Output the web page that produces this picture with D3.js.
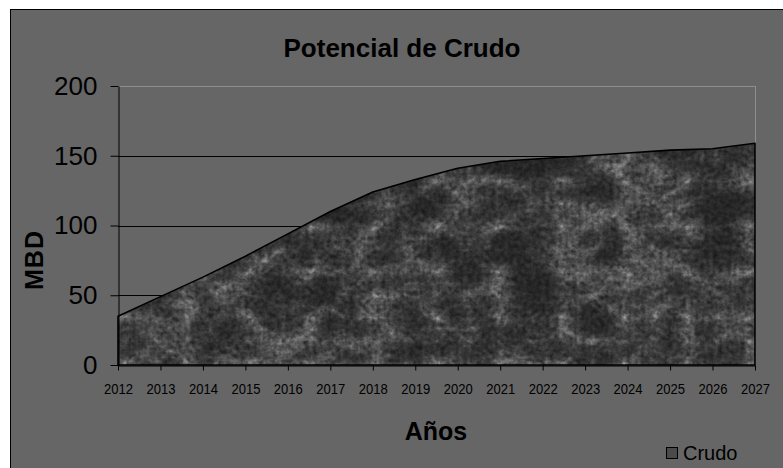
<!DOCTYPE html>
<html>
<head>
<meta charset="utf-8">
<script src="https://cdn.jsdelivr.net/npm/d3@7"></script>
<style>
  html, body { margin: 0; padding: 0; background: #ffffff; }
  svg { display: block; font-family: "Liberation Sans", Arial, sans-serif; }
</style>
</head>
<body>
<svg id="chart" width="783" height="468"></svg>
<script>
// Crude oil potential, thousand barrels per day
const years = [2012, 2013, 2014, 2015, 2016, 2017, 2018, 2019, 2020, 2021, 2022, 2023, 2024, 2025, 2026, 2027];
const crudo = [35, 49, 63, 78, 94, 110, 124, 133, 141, 146, 148, 150, 152, 154, 155, 159];
const yTicks = [0, 50, 100, 150, 200];
const gridValues = [50, 100, 150];

const title = "Potencial de Crudo";
const xTitle = "Años";
const yTitle = "MBD";
const seriesName = "Crudo";

const W = 783, H = 468;
const plot = { left: 118, right: 755, top: 86, bottom: 365 };

const svg = d3.select("#chart");

// Marble-like texture used for the filled area
const defs = svg.append("defs");
const marble = defs.append("filter").attr("id", "marble")
  .attr("x", 0).attr("y", 0).attr("width", 1).attr("height", 1)
  .attr("filterUnits", "objectBoundingBox")
  .attr("color-interpolation-filters", "sRGB");
marble.append("feTurbulence").attr("type", "turbulence")
  .attr("baseFrequency", "0.016 0.022").attr("numOctaves", 6).attr("seed", 11).attr("result", "veins");
marble.append("feColorMatrix").attr("in", "veins").attr("type", "matrix")
  .attr("values", "0.5 0.5 0 0 0  0.5 0.5 0 0 0  0.5 0.5 0 0 0  0 0 0 0 1").attr("result", "veinGray");
const ct1 = marble.append("feComponentTransfer").attr("in", "veinGray").attr("result", "veinMap");
["feFuncR", "feFuncG", "feFuncB"].forEach(f =>
  ct1.append(f).attr("type", "table").attr("tableValues", "0.62 0.40 0.24 0.16 0.14 0.17 0.24"));
marble.append("feTurbulence").attr("type", "fractalNoise")
  .attr("baseFrequency", "0.22").attr("numOctaves", 2).attr("seed", 3).attr("result", "grain");
marble.append("feColorMatrix").attr("in", "grain").attr("type", "matrix")
  .attr("values", "0.6 0.4 0 0 0  0.6 0.4 0 0 0  0.6 0.4 0 0 0  0 0 0 0 1").attr("result", "grainGray");
const ct2 = marble.append("feComponentTransfer").attr("in", "grainGray").attr("result", "grainMap");
["feFuncR", "feFuncG", "feFuncB"].forEach(f =>
  ct2.append(f).attr("type", "linear").attr("slope", 1.1).attr("intercept", 0.05));
marble.append("feBlend").attr("in", "veinMap").attr("in2", "grainMap").attr("mode", "multiply").attr("result", "mix");
const ct3 = marble.append("feComponentTransfer").attr("in", "mix").attr("result", "tone");
["feFuncR", "feFuncG", "feFuncB"].forEach(f =>
  ct3.append(f).attr("type", "linear").attr("slope", 1.3).attr("intercept", 0.04));
marble.append("feGaussianBlur").attr("in", "tone").attr("stdDeviation", 0.55);

// Background panel and frame
svg.append("rect").attr("x", 10.5).attr("y", 9.5).attr("width", W).attr("height", H)
  .attr("fill", "#666666").attr("stroke", "#000").attr("stroke-width", 1);

const x = d3.scaleLinear().domain(d3.extent(years)).range([plot.left, plot.right]);
const y = d3.scaleLinear().domain([0, 200]).range([plot.bottom, plot.top]);

// Plot area border (top and right)
svg.append("line").attr("x1", plot.left).attr("x2", plot.right)
  .attr("y1", y(200) + 0.5).attr("y2", y(200) + 0.5).attr("stroke", "#8e8e8e").attr("stroke-width", 1);
svg.append("line").attr("x1", plot.right + 0.5).attr("x2", plot.right + 0.5)
  .attr("y1", y(200)).attr("y2", y(0)).attr("stroke", "#8e8e8e").attr("stroke-width", 1);

// Horizontal gridlines
svg.append("g").selectAll("line").data(gridValues).join("line")
  .attr("x1", plot.left).attr("x2", plot.right)
  .attr("y1", d => Math.round(y(d)) + 0.5).attr("y2", d => Math.round(y(d)) + 0.5)
  .attr("stroke", "#000").attr("stroke-width", 1);

// Filled area
const area = d3.area().x((d, i) => x(years[i])).y0(y(0)).y1(d => y(d));
const areaPath = area(crudo);
defs.append("clipPath").attr("id", "areaClip").append("path").attr("d", areaPath);
svg.append("rect").attr("x", plot.left).attr("y", plot.top).attr("width", plot.right - plot.left)
  .attr("height", plot.bottom - plot.top).attr("fill", "#333")
  .attr("filter", "url(#marble)").attr("clip-path", "url(#areaClip)");
svg.append("path").attr("d", areaPath).attr("fill", "none")
  .attr("stroke", "#000").attr("stroke-width", 1.6).attr("stroke-linejoin", "round");

// Y axis
const yAxis = svg.append("g").attr("transform", `translate(${plot.left + 0.5},0)`)
  .call(d3.axisLeft(y).tickValues(yTicks).tickSize(8).tickSizeOuter(0).tickPadding(13));
yAxis.select(".domain").attr("stroke", "#000");
yAxis.selectAll(".tick line").attr("stroke", "#000");
yAxis.selectAll(".tick text").attr("fill", "#000").style("font-size", "26px")
  .style("font-family", "'Liberation Sans', Arial, sans-serif");

// X axis
const xAxis = svg.append("g").attr("transform", `translate(0,${plot.bottom + 0.5})`)
  .call(d3.axisBottom(x).tickValues(years).tickFormat(d3.format("d")).tickSize(5).tickSizeOuter(0).tickPadding(13));
xAxis.select(".domain").attr("stroke", "#000");
xAxis.selectAll(".tick line").attr("stroke", "#000");
xAxis.selectAll(".tick text").attr("fill", "#000").style("font-size", "15px")
  .style("font-family", "'Liberation Sans', Arial, sans-serif")
  .attr("textLength", 29).attr("lengthAdjust", "spacingAndGlyphs");

// Titles
svg.append("text").attr("x", 402).attr("y", 57).attr("text-anchor", "middle")
  .style("font-size", "26px").style("font-weight", "bold").attr("fill", "#000").text(title);
svg.append("text").attr("x", 436).attr("y", 440).attr("text-anchor", "middle")
  .style("font-size", "25px").style("font-weight", "bold").attr("fill", "#000").text(xTitle);
svg.append("text").attr("transform", "translate(43,260) rotate(-90)").attr("text-anchor", "middle")
  .style("font-size", "25px").style("font-weight", "bold").style("letter-spacing", "1px")
  .attr("fill", "#000").text(yTitle);

// Legend
const legend = svg.append("g").attr("transform", "translate(666,447)");
legend.append("rect").attr("x", 0.5).attr("y", 0.5).attr("width", 11).attr("height", 11)
  .attr("fill", "#4a4a4a").attr("stroke", "#000").attr("stroke-width", 1);
legend.append("text").attr("x", 17).attr("y", 12.5).style("font-size", "20px")
  .attr("fill", "#000").text(seriesName);
</script>
</body>
</html>
